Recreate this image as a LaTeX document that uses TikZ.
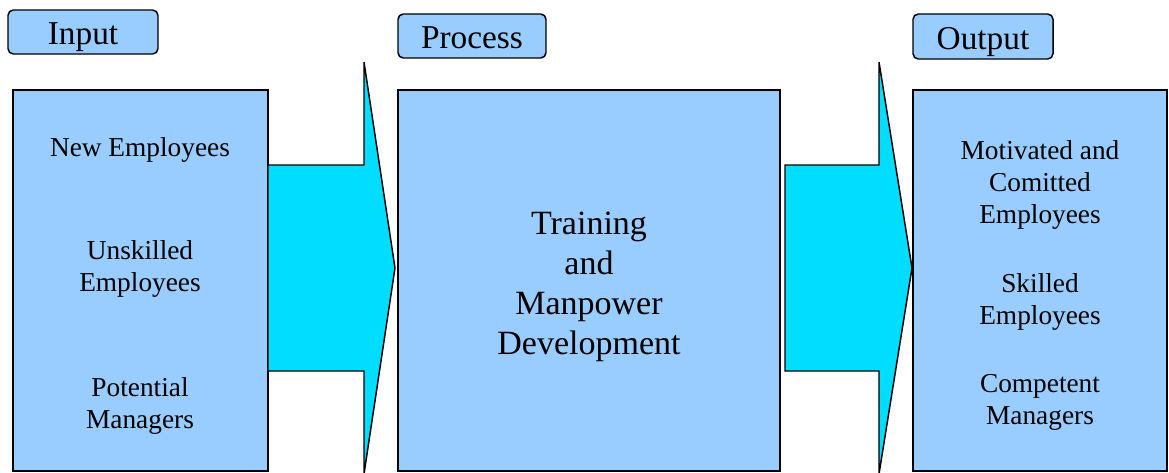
\documentclass[tikz,border=0pt]{standalone}
\usepackage{fontspec}
\setmainfont{Liberation Serif}
\usetikzlibrary{positioning}
\usetikzlibrary{calc}
\definecolor{boxblue}{RGB}{153,204,255}
\definecolor{flowcyan}{RGB}{0,221,255}

\begin{document}
\begin{tikzpicture}[x=0.75pt,y=-0.75pt,
        stage/.style={draw, fill=boxblue, line width=1.1pt, inner sep=0pt},
        title/.style={draw, fill=boxblue, line width=1.1pt, rounded corners=4pt, inner sep=0pt,
            text height=19pt, text depth=0pt, font=\fontsize{25}{30}\selectfont},
        item/.style={align=center, font=\fontsize{20.5}{24}\selectfont},
        flow/.style={draw, fill=flowcyan, line width=1.1pt, line join=miter}]
        \clip (0,0) rectangle (1169,472);

        % titles
        \node[title, minimum width=112.5pt, minimum height=33pt] (inputTitle) at (83,32) {Input};
        \node[title, minimum width=111pt, minimum height=33pt] (processTitle) at (472,36) {Process};
        \node[title, minimum width=105pt, minimum height=33.75pt] (outputTitle) at (983,36.5) {Output};

        % stages
        \node[stage, minimum width=191.25pt, minimum height=285.75pt] (input) at (140.5,280.5) {};
        \node[stage, minimum width=286.5pt, minimum height=285.75pt] (process) at (589,280.5) {};
        \node[stage, minimum width=190.5pt, minimum height=285.75pt] (output) at (1040,280.5) {};

        % input items
        \node[item] (newEmp) at (140,150) {New Employees};
        \node[item] (unskilled) at (140,269) {Unskilled\\Employees};
        \node[item] (potential) at (140,406) {Potential\\Managers};

        % process text
        \node[align=center, font=\fontsize{25.5}{30}\selectfont] (training) at (589,287)
            {Training\\and\\Manpower\\Development};

        % output items
        \node[item] (motivated) at (1040,185) {Motivated and\\Comitted\\Employees};
        \node[item] (skilled) at (1040,302) {Skilled\\Employees};
        \node[item] (competent) at (1040,402) {Competent\\Managers};

        % arrows
        \draw[flow] (268,165) -- (364,165) -- (364,62) -- (395,268) -- (364,474)
            -- (364,371) -- (268,371) -- cycle;
        \draw[flow] (785,165) -- (879,165) -- (879,62) -- (912,268) -- (879,474)
            -- (879,371) -- (785,371) -- cycle;

\end{tikzpicture}
\end{document}
